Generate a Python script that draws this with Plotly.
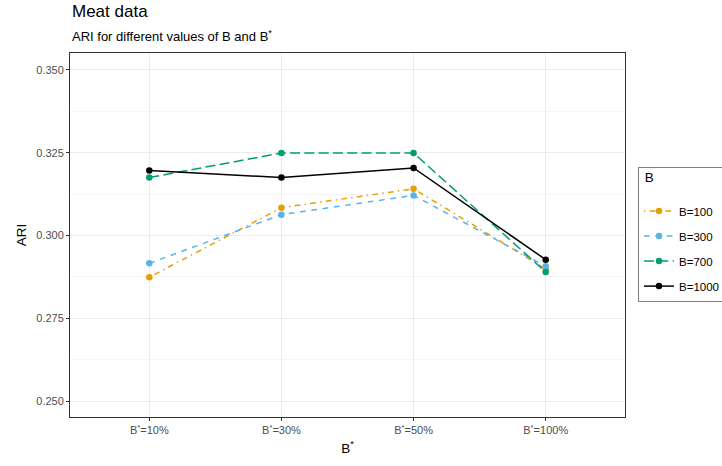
import plotly.graph_objects as go

categories = ["B<sup>*</sup>=10%", "B<sup>*</sup>=30%", "B<sup>*</sup>=50%", "B<sup>*</sup>=100%"]
series_names = ["B=100", "B=300", "B=700", "B=1000"]
ari_b100 = [0.2874, 0.3084, 0.3141, 0.2899]
ari_b300 = [0.2916, 0.3063, 0.3121, 0.2907]
ari_b700 = [0.3175, 0.3249, 0.3249, 0.2890]
ari_b1000 = [0.3196, 0.3175, 0.3204, 0.2927]
y_ticks = [0.250, 0.275, 0.300, 0.325, 0.350]
y_tick_labels = ["0.250", "0.275", "0.300", "0.325", "0.350"]
y_minor = [0.2625, 0.2875, 0.3125, 0.3375]

series_values = [ari_b100, ari_b300, ari_b700, ari_b1000]
colors = ["#E69F00", "#56B4E9", "#009E73", "#000000"]
dashes = ["1.4px,4.3px,5.7px,4.3px", "5.7px,5.7px", "10px,4.3px", "solid"]

fig = go.Figure()
for name, vals, col, dash in zip(series_names, series_values, colors, dashes):
    fig.add_trace(go.Scatter(
        x=categories, y=vals, name=name, mode="lines+markers",
        legendgroup=name,
        line=dict(color=col, width=1.5, dash=dash),
        marker=dict(color=col, size=6.5),
    ))

H, T, B = 466, 53, 46
ph = H - T - B
def paper_y(py):
    return (H - B - py) / ph

fig.update_layout(
    width=722, height=H,
    margin=dict(l=70, r=97, t=T, b=B),
    paper_bgcolor="white", plot_bgcolor="white",
    font=dict(family="Liberation Sans, Arial, sans-serif", color="black"),
    annotations=[
        dict(text="Meat data", xref="paper", yref="paper", x=0, y=paper_y(11),
             xanchor="left", yanchor="middle", showarrow=False,
             font=dict(size=17, color="black")),
        dict(text="ARI for different values of B and B<sup>*</sup>", xref="paper", yref="paper",
             x=0, y=paper_y(36), xanchor="left", yanchor="middle", showarrow=False,
             font=dict(size=13, color="black")),
    ],
    legend=dict(
        title=dict(text="<span style='font-size:13.5px'> B</span><br> ", font=dict(size=11)),
        xref="container", yref="container",
        x=638/722, xanchor="left", y=1-167/466, yanchor="top",
        bordercolor="#7F7F7F", borderwidth=1,
        font=dict(size=11.5, color="black"),
        tracegroupgap=6,
        itemwidth=30,
    ),
    showlegend=True,
)

fig.update_xaxes(
    type="category", range=[-0.6, 3.6],
    showgrid=True, gridcolor="#EBEBEB", gridwidth=1,
    showline=True, linecolor="#333333", linewidth=1, mirror=True,
    ticks="outside", ticklen=3, tickcolor="#333333",
    tickfont=dict(size=11, color="#4D4D4D"),
    title=dict(text="B<sup>*</sup>", font=dict(size=13.5), standoff=8),
    zeroline=False,
)
fig.update_yaxes(
    range=[0.2452, 0.3551],
    tickmode="array", tickvals=y_ticks, ticktext=y_tick_labels,
    showgrid=True, gridcolor="#EBEBEB", gridwidth=1,
    minor=dict(tickmode="array", tickvals=y_minor, showgrid=True, gridcolor="#F5F5F5", gridwidth=0.6, ticks=""),
    showline=True, linecolor="#333333", linewidth=1, mirror=True,
    ticks="outside", ticklen=3, tickcolor="#333333",
    tickfont=dict(size=11, color="#4D4D4D"),
    title=dict(text="ARI", font=dict(size=13.5), standoff=6),
    zeroline=False,
)

fig.write_html("out.html")
